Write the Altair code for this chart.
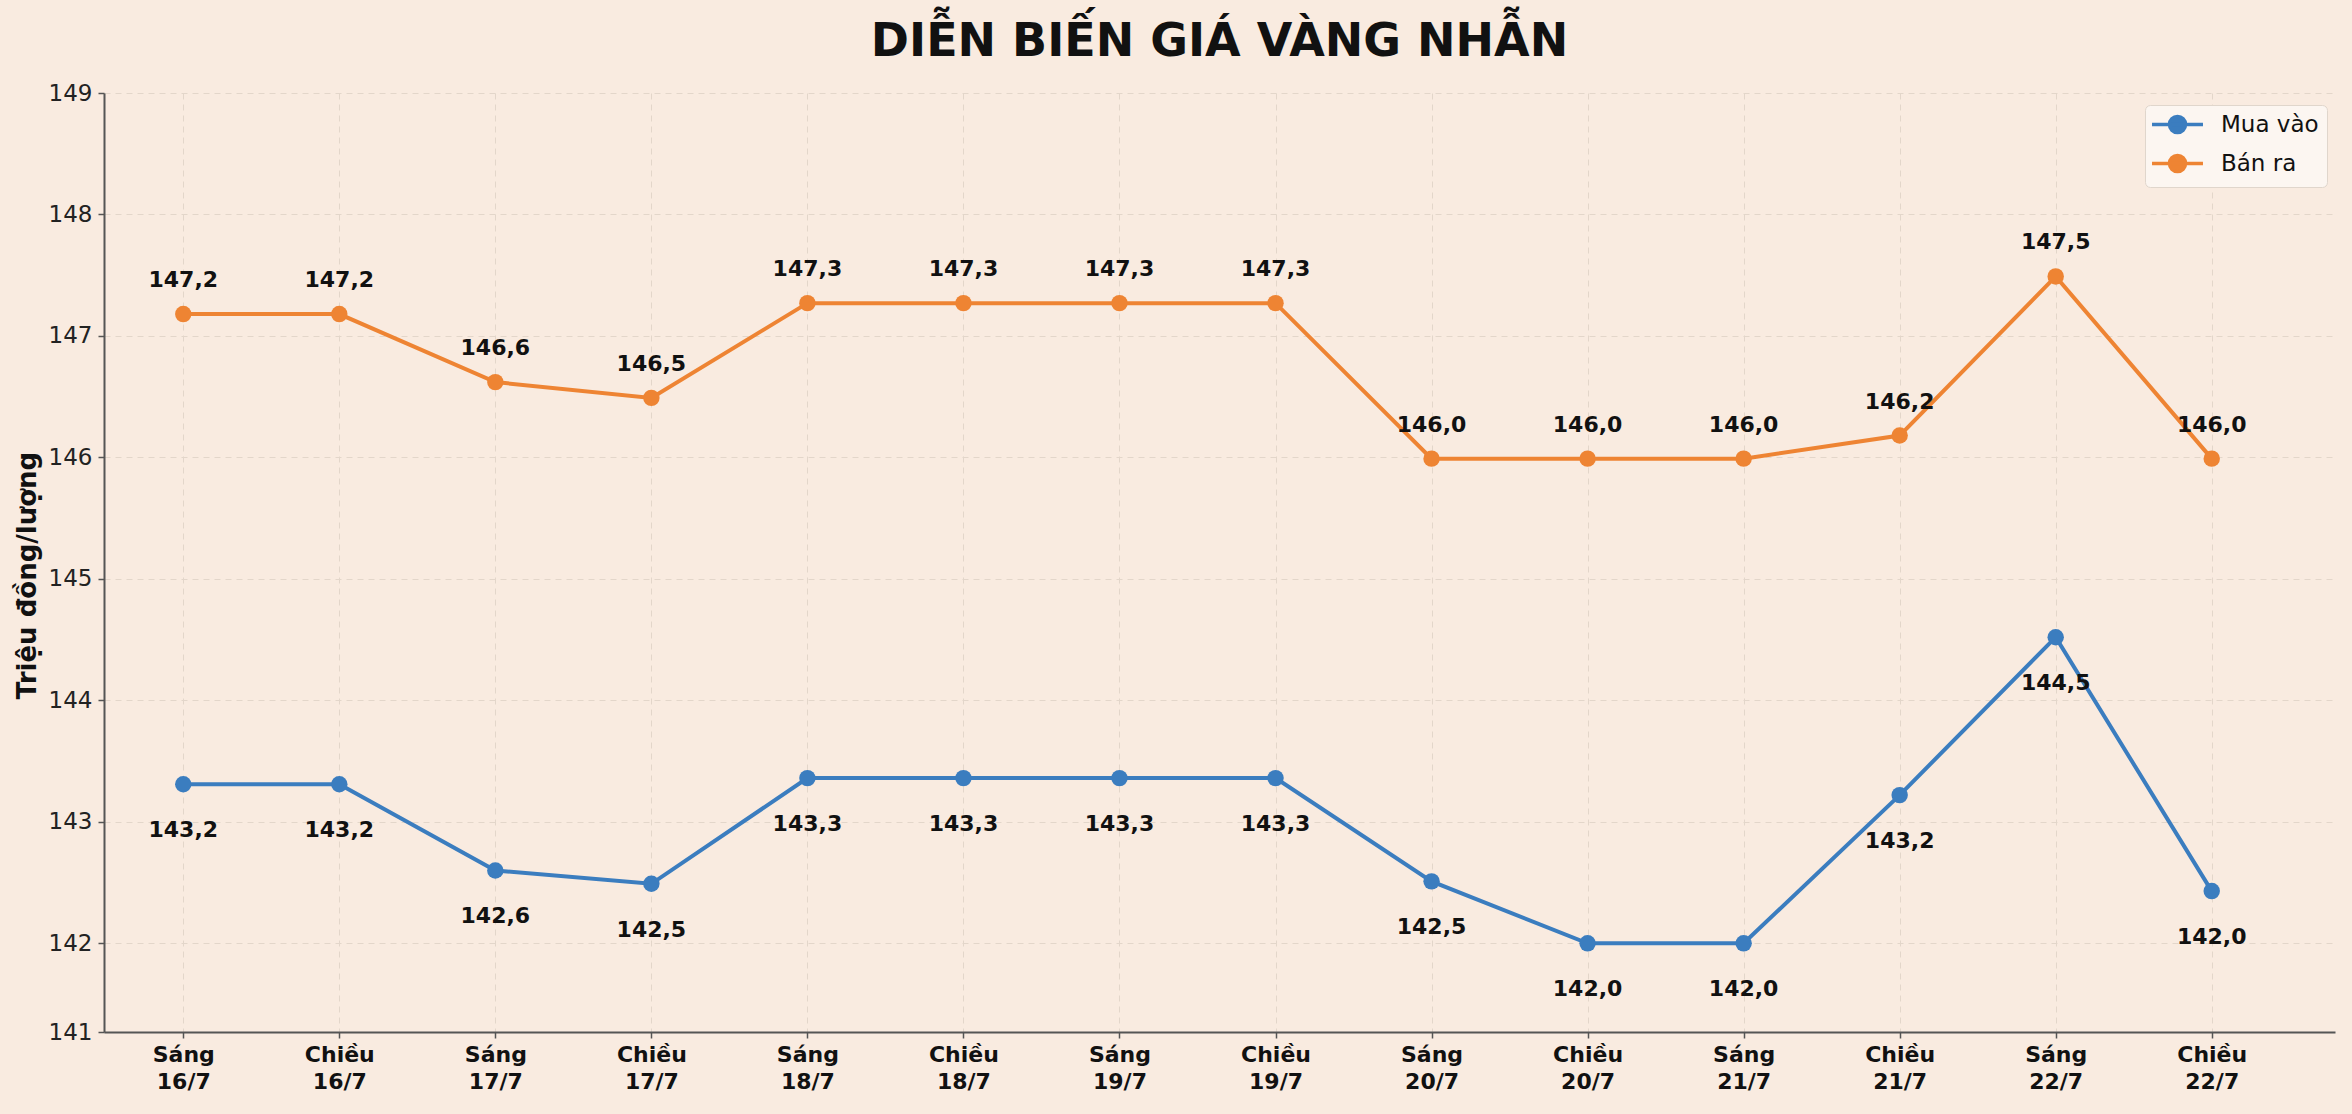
import altair as alt
import pandas as pd

# ---- data ----
sessions = ["Sáng", "Chiều"] * 7
dates = ["16/7", "16/7", "17/7", "17/7", "18/7", "18/7", "19/7", "19/7",
         "20/7", "20/7", "21/7", "21/7", "22/7", "22/7"]
buy = [143.31, 143.31, 142.60, 142.49, 143.36, 143.36, 143.36, 143.36,
       142.51, 142.00, 142.00, 143.22, 144.52, 142.43]
sell = [147.18, 147.18, 146.62, 146.49, 147.27, 147.27, 147.27, 147.27,
        145.99, 145.99, 145.99, 146.18, 147.49, 145.99]
buy_labels = ["143,2", "143,2", "142,6", "142,5", "143,3", "143,3", "143,3", "143,3",
              "142,5", "142,0", "142,0", "143,2", "144,5", "142,0"]
sell_labels = ["147,2", "147,2", "146,6", "146,5", "147,3", "147,3", "147,3", "147,3",
               "146,0", "146,0", "146,0", "146,2", "147,5", "146,0"]
series_names = ["Mua vào", "Bán ra"]
colors = ["#3b7dbf", "#ee8433"]
y_ticks = [141, 142, 143, 144, 145, 146, 147, 148, 149]
y_min = 141.27
x_domain = [-0.508, 13.79]

FONT = "DejaVu Sans"
BG = "#f9ebe0"

rows = []
for i in range(len(sessions)):
    rows.append({"idx": i, "series": series_names[0], "value": buy[i], "label": buy_labels[i]})
    rows.append({"idx": i, "series": series_names[1], "value": sell[i], "label": sell_labels[i]})
df = pd.DataFrame(rows)

x_label_js = "[" + ",".join("['%s','%s']" % (s, d) for s, d in zip(sessions, dates)) + "][datum.value]"

x_enc = alt.X(
    "idx:Q",
    scale=alt.Scale(domain=x_domain, nice=False, zero=False),
    axis=alt.Axis(
        values=list(range(len(sessions))),
        labelExpr=x_label_js,
        title=None,
        labelFont=FONT, labelFontSize=22, labelFontWeight="bold", labelColor="#111111",
        labelLineHeight=27, labelPadding=6, labelFlush=False,
        tickSize=6, tickColor="#555555", tickWidth=1.5,
        domainColor="#555555", domainWidth=2,
        grid=True, gridColor="#e3d6ca", gridDash=[6, 5], gridWidth=1,
    ),
)

y_enc = alt.Y(
    "value:Q",
    scale=alt.Scale(domain=[y_min, y_ticks[-1]], nice=False, zero=False),
    axis=alt.Axis(
        values=[y_min] + y_ticks[1:],
        labelExpr="datum.value < %s ? '%d' : format(datum.value, 'd')" % (y_ticks[0] + 0.5, y_ticks[0]),
        title="Triệu đồng/lượng",
        titleFont=FONT, titleFontSize=26, titleFontWeight="bold", titleColor="#111111",
        titleX=-77, titleY=482, titleAngle=270, titleBaseline="middle", titleAlign="center",
        labelFont=FONT, labelFontSize=23, labelColor="#222222", labelPadding=6,
        tickSize=6, tickColor="#555555", tickWidth=1.5,
        domainColor="#555555", domainWidth=2,
        grid=True, gridColor="#e3d6ca", gridDash=[6, 5], gridWidth=1,
    ),
)

sym_path = "M-2.83,0L2.83,0M-0.89,0A0.89,0.89,0,1,1,0.89,0A0.89,0.89,0,1,1,-0.89,0Z"
legend = alt.Legend(
    title=None, orient="none", legendX=2041, legendY=12,
    fillColor="#fcf6f1", strokeColor="#e0d6cc", cornerRadius=5, padding=8,
    labelFont=FONT, labelFontSize=23, labelColor="#111111",
    symbolType=sym_path, symbolSize=324, symbolStrokeWidth=3.5,
    symbolOffset=13, labelOffset=32, rowPadding=8,
)
scale_c = alt.Scale(domain=series_names, range=colors)

base = alt.Chart(df)

lines = base.mark_line(strokeWidth=4).encode(
    x=x_enc, y=y_enc,
    stroke=alt.Stroke("series:N", scale=scale_c, legend=legend, sort=series_names),
)
points = base.mark_circle(size=270, opacity=1).encode(
    x=x_enc, y=y_enc,
    color=alt.Color("series:N", scale=scale_c, legend=legend, sort=series_names),
)
sell_text = base.transform_filter(alt.datum.series == series_names[1]).mark_text(
    font=FONT, fontSize=22, fontWeight="bold", color="#111111",
    baseline="alphabetic", dy=-27,
).encode(x=x_enc, y=y_enc, text="label:N")
buy_text = base.transform_filter(alt.datum.series == series_names[0]).mark_text(
    font=FONT, fontSize=22, fontWeight="bold", color="#111111",
    baseline="alphabetic", dy=53,
).encode(x=x_enc, y=y_enc, text="label:N")

chart = alt.layer(lines, points, sell_text, buy_text).properties(
    width=2231, height=939,
    title=alt.TitleParams(
        "DIỄN BIẾN GIÁ VÀNG NHẪN", font=FONT, fontSize=46, fontWeight="bold",
        color="#111111", anchor="middle", offset=16,
    ),
    autosize=alt.AutoSizeParams(type="none"),
    padding={"left": 104, "top": 93, "right": 17, "bottom": 82},
    background=BG,
).configure_view(stroke=None)

chart.save("out.html", embed_options={"renderer": "svg", "actions": False})
